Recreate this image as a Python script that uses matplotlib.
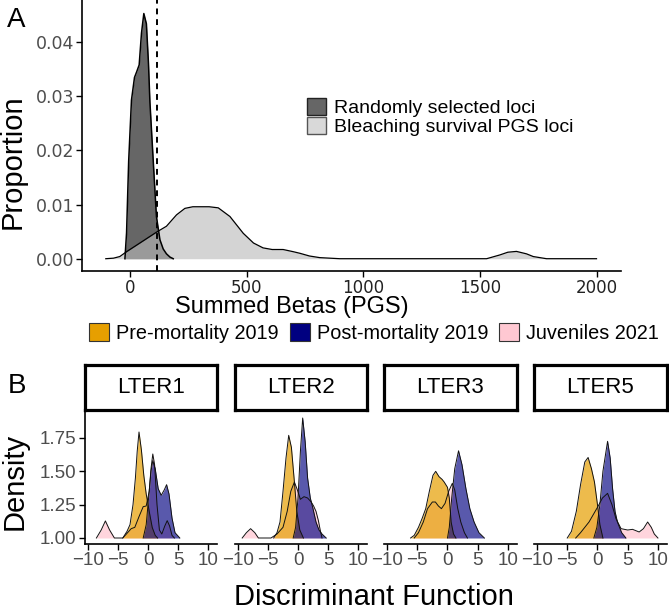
import numpy as np
import matplotlib.pyplot as plt
from matplotlib.patches import Patch

plt.rcParams['font.family'] = ['Liberation Sans', 'DejaVu Sans']

# ---- panel A: summed betas (x, proportion) ----
random_loci = [(-21, 0.0), (-14, 0.0048), (-5, 0.018), (7, 0.0293), (20, 0.0335), (29, 0.0345),
               (40, 0.0358), (50, 0.0417), (60, 0.0453), (71, 0.0434), (80, 0.036), (86, 0.029),
               (100, 0.0183), (114, 0.0078), (129, 0.0035), (143, 0.0018), (157, 0.0009),
               (172, 0.0003), (186, 0.0)]
pgs_loci = [(-103, 0.0), (-70, 0.0001), (-43, 0.0004), (-14, 0.0013), (43, 0.0029), (114, 0.0049),
            (157, 0.006), (200, 0.0081), (236, 0.0093), (270, 0.0096), (300, 0.0096), (340, 0.0096),
            (379, 0.0094), (429, 0.0078), (486, 0.0047), (530, 0.0029), (571, 0.002), (610, 0.0017),
            (657, 0.0017), (700, 0.0013), (729, 0.001), (770, 0.0005), (814, 0.0002), (900, 0.0),
            (1529, 0.0), (1586, 0.0007), (1620, 0.0012), (1657, 0.00135), (1700, 0.0009),
            (1729, 0.0004), (1786, 0.0), (2000, 0.0)]
threshold = 115

# ---- panel B: discriminant function densities (x, density) ----
sites = ['LTER1', 'LTER2', 'LTER3', 'LTER5']

lter1_juv = [(-8.6, 1.0), (-7.8, 1.06), (-7.1, 1.128), (-6.4, 1.06), (-5.6, 1.0), (-4.2, 1.0),
             (-3.6, 1.03), (-2.8, 1.07), (-2.2, 1.08), (-1.5, 1.16), (-0.8, 1.235), (-0.3, 1.24),
             (0.2, 1.35), (0.5, 1.52), (0.8, 1.63), (1.1, 1.55), (1.5, 1.25), (1.9, 1.06),
             (2.3, 1.03), (2.8, 1.09), (3.2, 1.13), (3.6, 1.09), (4.0, 1.02), (4.4, 1.0)]
lter1_pre = [(-4.2, 1.0), (-3.5, 1.05), (-3.0, 1.1), (-2.5, 1.25), (-2.1, 1.45), (-1.8, 1.65),
             (-1.5, 1.795), (-1.1, 1.66), (-0.7, 1.47), (-0.3, 1.33), (0.2, 1.2), (0.7, 1.08),
             (1.2, 1.02), (1.6, 1.0)]
lter1_post = [(-0.8, 1.0), (-0.3, 1.1), (0.1, 1.3), (0.5, 1.5), (0.8, 1.58), (1.2, 1.52),
              (1.7, 1.37), (2.2, 1.32), (2.7, 1.36), (3.1, 1.40), (3.5, 1.33), (4.0, 1.15),
              (4.5, 1.04), (5.3, 1.0)]

lter2_juv = [(-9.3, 1.0), (-8.6, 1.04), (-7.9, 1.07), (-7.2, 1.04), (-6.6, 1.0), (-4.5, 1.0),
             (-3.5, 1.03), (-2.5, 1.08), (-1.8, 1.2), (-1.2, 1.35), (-0.6, 1.42), (-0.1, 1.36),
             (0.4, 1.29), (1.0, 1.31), (1.6, 1.30), (2.2, 1.27), (2.6, 1.24), (3.0, 1.2),
             (3.4, 1.13), (3.7, 1.06), (4.0, 1.0)]
lter2_pre = [(-4.05, 1.0), (-3.5, 1.04), (-3.0, 1.12), (-2.5, 1.35), (-2.0, 1.6), (-1.55, 1.77),
             (-1.1, 1.68), (-0.6, 1.42), (-0.2, 1.2), (0.3, 1.06), (0.9, 1.0)]
lter2_post = [(-0.8, 1.0), (-0.4, 1.08), (0.0, 1.3), (0.4, 1.65), (0.78, 1.90), (1.2, 1.72),
              (1.6, 1.45), (2.05, 1.30), (2.5, 1.22), (3.0, 1.12), (3.5, 1.06), (4.0, 1.03),
              (4.7, 1.0)]

lter3_juv = [(-5.5, 1.0), (-4.8, 1.04), (-4.0, 1.12), (-3.3, 1.22), (-2.5, 1.27), (-2.0, 1.27),
             (-1.5, 1.24), (-1.0, 1.22), (-0.4, 1.26), (0.2, 1.35), (0.8, 1.41), (1.2, 1.36),
             (1.7, 1.22), (2.2, 1.12), (2.8, 1.04), (3.3, 1.0)]
lter3_pre = [(-6.1, 1.0), (-5.5, 1.02), (-4.8, 1.08), (-4.2, 1.146), (-3.6, 1.22), (-3.0, 1.35),
             (-2.4, 1.47), (-1.95, 1.50), (-1.4, 1.46), (-0.9, 1.44), (-0.55, 1.42), (0.0, 1.38),
             (0.3, 1.30), (0.6, 1.12), (1.0, 1.03), (1.4, 1.0)]
lter3_post = [(0.0, 1.0), (0.3, 1.08), (0.7, 1.3), (1.2, 1.52), (1.83, 1.654), (2.4, 1.55),
              (3.05, 1.37), (3.7, 1.22), (4.4, 1.12), (5.2, 1.04), (6.1, 1.0)]

lter5_juv = [(-3.6, 1.0), (-2.8, 1.04), (-1.4, 1.12), (0.0, 1.23), (0.83, 1.30), (1.67, 1.335),
             (2.4, 1.25), (3.05, 1.146), (3.9, 1.07), (5.0, 1.06), (5.8, 1.065), (6.9, 1.045),
             (7.6, 1.07), (8.3, 1.12), (8.9, 1.08), (9.4, 1.03), (10.0, 1.0)]
lter5_pre = [(-5.0, 1.0), (-4.3, 1.05), (-3.5, 1.2), (-2.8, 1.4), (-2.1, 1.57), (-1.55, 1.604),
             (-1.0, 1.52), (-0.5, 1.42), (0.0, 1.25), (0.4, 1.1), (0.9, 1.0)]
lter5_post = [(-0.6, 1.0), (-0.1, 1.08), (0.4, 1.25), (0.9, 1.5), (1.67, 1.725), (2.1, 1.6),
              (2.5, 1.37), (2.9, 1.2), (3.3, 1.12), (4.0, 1.04), (4.7, 1.0)]

site_curves = {
    'LTER1': (lter1_juv, lter1_pre, lter1_post),
    'LTER2': (lter2_juv, lter2_pre, lter2_post),
    'LTER3': (lter3_juv, lter3_pre, lter3_post),
    'LTER5': (lter5_juv, lter5_pre, lter5_post),
}
group_names = ['Pre-mortality 2019', 'Post-mortality 2019', 'Juveniles 2021']
group_cols = ['#E69F00', '#000080', '#FFC8D2']

W, H = 669, 614
fig = plt.figure(figsize=(W / 100, H / 100), dpi=100)


def box(x0, y0, x1, y1):
    # pixel box (top-left origin) -> figure fraction
    return [x0 / W, 1 - y1 / H, (x1 - x0) / W, (y1 - y0) / H]


# ------------------ panel A ------------------
axA = fig.add_axes(box(82, 0, 621, 271))
rx, ry = np.array(random_loci).T
px, py = np.array(pgs_loci).T
axA.fill_between(rx, 0, ry, color='#666666', lw=0)
axA.plot(rx, ry, color='black', lw=1.1)
axA.fill_between(px, 0, py, color='#BBBBBB', alpha=0.62, lw=0)
axA.plot(px, py, color='black', lw=0.9)
axA.axvline(threshold, color='black', ls=(0, (3, 2.5)), lw=1.4)
axA.set_xlim(-205, 2105)
axA.set_ylim(-0.00227, 0.0478)
axA.set_xticks([0, 500, 1000, 1500, 2000])
axA.set_yticks([0, 0.01, 0.02, 0.03, 0.04])
axA.set_yticklabels(['0.00', '0.01', '0.02', '0.03', '0.04'])
for s in ['top', 'right']:
    axA.spines[s].set_visible(False)
for s in ['left', 'bottom']:
    axA.spines[s].set_linewidth(1.2)
axA.tick_params(length=4, width=1, pad=1.5)
for lab in axA.get_yticklabels():
    lab.set_family('DejaVu Sans'); lab.set_fontsize(12.5); lab.set_color('#4D4D4D')
for lab in axA.get_xticklabels():
    lab.set_family('DejaVu Sans'); lab.set_fontsize(12); lab.set_color('#222222')

fig.text(13 / W, 1 - 162 / H, 'Proportion', rotation=90, ha='center', va='center', fontsize=21)
fig.text(292 / W, 1 - 313 / H, 'Summed Betas (PGS)', ha='center', va='baseline', fontsize=17)
fig.text(7 / W, 1 - 27 / H, 'A', fontsize=20, va='baseline')

legA = [Patch(facecolor='#666666', edgecolor='#222222', lw=1),
        Patch(facecolor='#D9D9D9', edgecolor='#555555', lw=1)]
fig.legend(legA, ['Randomly selected loci', 'Bleaching survival PGS loci'],
           loc='upper left', bbox_to_anchor=(307 / W, 1 - 98 / H), frameon=False,
           fontsize=14, handlelength=1.0, handleheight=0.95, handletextpad=0.4,
           labelspacing=0.0, borderpad=0, borderaxespad=0)

# ------------------ panel B ------------------
legB = [Patch(facecolor=c, edgecolor='#333333', lw=0.8) for c in group_cols]
fig.legend(legB, group_names, loc='center', bbox_to_anchor=(374 / W, 1 - 333 / H), ncol=3,
           frameon=False, fontsize=14.3, handlelength=1.0, handleheight=1.0,
           handletextpad=0.35, columnspacing=0.55, borderpad=0, borderaxespad=0)
fig.text(8 / W, 1 - 393 / H, 'B', fontsize=20, va='baseline')

panel_x = [(85, 217), (235, 367), (384, 517), (534, 667)]
for i, site in enumerate(sites):
    x0, x1 = panel_x[i]
    ax = fig.add_axes(box(x0, 410, x1, 544))
    juv, pre, post = site_curves[site]
    for curve, col, a in [(juv, group_cols[2], 0.75), (pre, group_cols[0], 0.7),
                          (post, group_cols[1], 0.65)]:
        cx, cy = np.array(curve).T
        ax.fill_between(cx, 1.0, cy, color=col, alpha=a, lw=0)
        ax.plot(cx, cy, color='#111111', lw=0.7)
    ax.set_xlim(-10.5, 11.5)
    ax.set_ylim(0.955, 1.96)
    ax.set_xticks([-10, -5, 0, 5, 10])
    ax.set_xticklabels(['\u221210', '\u22125', '0', '5', '10'])
    ax.set_yticks([1.0, 1.25, 1.5, 1.75])
    ax.set_yticklabels(['1.00', '1.25', '1.50', '1.75'])
    for s in ['top', 'right']:
        ax.spines[s].set_visible(False)
    ax.spines['bottom'].set_linewidth(1.2)
    ax.spines['left'].set_linewidth(1.2)
    ax.tick_params(length=4, width=1, pad=2, labelsize=13.5, labelcolor='#4D4D4D')
    if i > 0:
        ax.spines['left'].set_visible(False)
        ax.tick_params(axis='y', left=False, labelleft=False)
    # facet strip
    st = fig.add_axes(box(x0, 365, x1, 410))
    st.set_xticks([]); st.set_yticks([])
    for s in st.spines.values():
        s.set_linewidth(2.3)
    st.text(0.5, 0.5, site, ha='center', va='center', fontsize=16, transform=st.transAxes)

fig.text(15 / W, 1 - 481 / H, 'Density', rotation=90, ha='center', va='center', fontsize=21)
fig.text(374 / W, 1 - 597 / H, 'Discriminant Function', ha='center', va='center', fontsize=21)

fig.savefig('out.png', dpi=100)
